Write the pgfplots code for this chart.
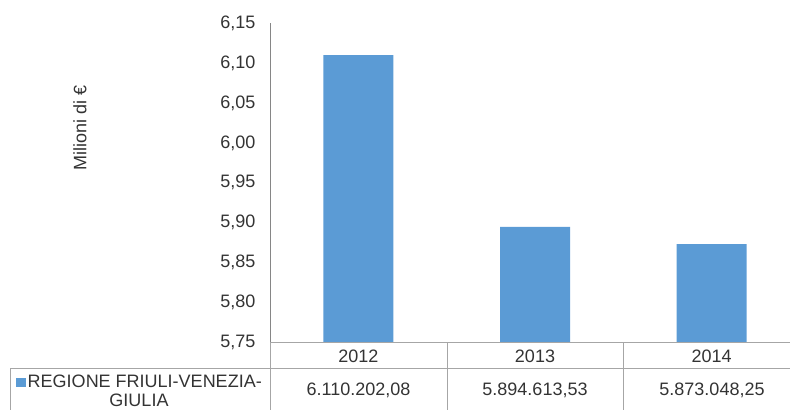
\documentclass[border=0pt]{standalone}
\usepackage{fontspec}
\setmainfont{Liberation Sans}
\usepackage{pgfplots}
\pgfplotsset{compat=1.18}
\definecolor{barblue}{HTML}{5B9BD5}
\definecolor{axisgray}{HTML}{868686}
\definecolor{gridgray}{HTML}{A6A6A6}
\definecolor{txt}{HTML}{333333}
\newcommand{\lbl}{\fontsize{18}{19}\selectfont}

\begin{document}
\begin{tikzpicture}[x=1pt,y=1pt]
\begin{axis}[
  at={(270pt,68pt)}, anchor=south west,
  scale only axis, width=530pt, height=318.5pt,
  xmin=-0.5, xmax=2.5, ymin=5.75, ymax=6.15,
  ybar, bar width=70pt, bar shift=0pt,
  axis line style={draw=none},
  tick style={draw=none},
  xtick={0,1,2}, xticklabels={2012,2013,2014},
  ytick={5.75,5.80,5.85,5.90,5.95,6.00,6.05,6.10,6.15},
  ticklabel style={font=\lbl, text=txt},
  yticklabel style={xshift=-11pt,
    /pgf/number format/fixed,
    /pgf/number format/fixed zerofill,
    /pgf/number format/precision=2,
    /pgf/number format/use comma,
    /pgf/number format/assume math mode=true},
]
\addplot[fill=barblue, draw=none] coordinates {(0,6.1102) (1,5.8946) (2,5.8730)};
\end{axis}
% axis and data table lines
\draw[axisgray] (270,386.5) -- (270,68);
\draw[gridgray] (270,68) -- (270,0);
\draw[gridgray] (270,68) -- (800,68);
\draw[gridgray] (10,42) -- (800,42);
\draw[gridgray] (10,42) -- (10,0);
\draw[gridgray] (447,68) -- (447,0);
\draw[gridgray] (623,68) -- (623,0);
% y label
\node[rotate=90, font=\lbl, text=txt] at (80,282) {Milioni di €};
% table values
\node[font=\lbl, text=txt] at (358.5,20) {6.110.202,08};
\node[font=\lbl, text=txt] at (535,20) {5.894.613,53};
\node[font=\lbl, text=txt] at (712,20) {5.873.048,25};
\node[font=\lbl, text=txt, align=center] at (139,19.5)
  {{\color{barblue}\rule{9.5pt}{9.5pt}}\hspace{2pt}REGIONE FRIULI-VENEZIA-\\GIULIA};
\pgfresetboundingbox
\useasboundingbox (0,0) rectangle (790,410);
\end{tikzpicture}
\end{document}
